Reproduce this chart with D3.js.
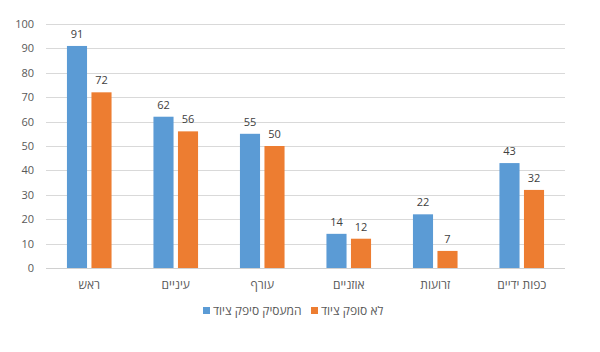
<!DOCTYPE html>
<html>
<head>
<meta charset="utf-8">
<script src="https://cdn.jsdelivr.net/npm/d3@7"></script>
<style>
  body { margin: 0; background: #fff; }
  svg text { font-family: "Open Sans", "DejaVu Sans", sans-serif; }
</style>
</head>
<body>
<div id="chart"></div>
<script>
// Data
const categories = ['ראש', 'עיניים', 'עורף', 'אוזניים', 'זרועות', 'כפות ידיים'];
const seriesNames = ['המעסיק סיפק ציוד', 'לא סופק ציוד'];
const employerProvided = [91, 62, 55, 14, 22, 43];
const notProvided = [72, 56, 50, 12, 7, 32];
const yTicks = [0, 10, 20, 30, 40, 50, 60, 70, 80, 90, 100];
const colors = ['#5b9bd5', '#ed7d31'];

const width = 600, height = 352;
const plot = { left: 46, right: 565, top: 24, bottom: 268 };

const rows = categories.map((c, i) => ({
    cat: c,
    values: [employerProvided[i], notProvided[i]]
}));

const svg = d3.select('#chart').append('svg')
    .attr('width', width)
    .attr('height', height);

const x0 = d3.scaleBand()
    .domain(categories)
    .range([plot.left, plot.right]);

const x1 = d3.scaleBand()
    .domain(d3.range(seriesNames.length))
    .range([0, x0.bandwidth()])
    .paddingInner(0.18)
    .paddingOuter(0.855);

const y = d3.scaleLinear()
    .domain([0, 100])
    .range([plot.bottom, plot.top]);

// grid lines
svg.append('g')
    .selectAll('line')
    .data(yTicks)
    .enter().append('line')
    .attr('x1', plot.left)
    .attr('x2', plot.right)
    .attr('y1', d => Math.round(y(d)) + 0.5)
    .attr('y2', d => Math.round(y(d)) + 0.5)
    .style('stroke', d => d === 0 ? '#d0d0d0' : '#d9d9d9')
    .style('stroke-width', 1);

// y tick labels
svg.append('g')
    .selectAll('text')
    .data(yTicks)
    .enter().append('text')
    .attr('x', 34)
    .attr('y', d => y(d) + 4)
    .attr('text-anchor', 'end')
    .style('font-size', '11px')
    .style('fill', '#595959')
    .text(d => d);

// bars
const groups = svg.append('g')
    .selectAll('g')
    .data(rows)
    .enter().append('g')
    .attr('transform', d => `translate(${x0(d.cat)},0)`);

groups.selectAll('rect')
    .data(d => d.values.map((v, i) => ({ v, i })))
    .enter().append('rect')
    .attr('x', d => x1(d.i))
    .attr('y', d => y(d.v))
    .attr('width', x1.bandwidth())
    .attr('height', d => y(0) - y(d.v))
    .attr('fill', d => colors[d.i]);

// data labels
groups.selectAll('text')
    .data(d => d.values.map((v, i) => ({ v, i })))
    .enter().append('text')
    .attr('x', d => x1(d.i) + x1.bandwidth() / 2)
    .attr('y', d => y(d.v) - 8)
    .attr('text-anchor', 'middle')
    .style('font-size', '11px')
    .style('fill', '#404040')
    .text(d => d.v);

// category labels
svg.append('g')
    .selectAll('text')
    .data(categories)
    .enter().append('text')
    .attr('x', d => x0(d) + x0.bandwidth() / 2)
    .attr('y', 289)
    .attr('text-anchor', 'middle')
    .style('font-size', '12px')
    .style('fill', '#595959')
    .text(d => d);

// legend
const legendX = [203, 311];
const legend = svg.append('g')
    .selectAll('g')
    .data(seriesNames)
    .enter().append('g')
    .attr('transform', (d, i) => `translate(${legendX[i]},311)`);

legend.append('rect')
    .attr('x', 0)
    .attr('y', -4)
    .attr('width', 7)
    .attr('height', 7)
    .attr('fill', (d, i) => colors[i]);

legend.append('text')
    .attr('x', 10)
    .attr('y', 4)
    .attr('text-anchor', 'start')
    .style('font-size', '12px')
    .style('fill', '#595959')
    .text(d => d);
</script>
</body>
</html>
